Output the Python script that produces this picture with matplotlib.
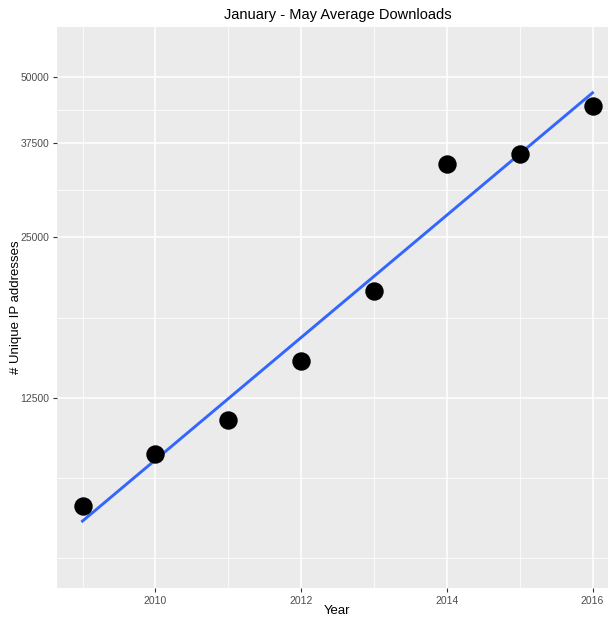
import matplotlib
matplotlib.use('Agg')
import matplotlib.pyplot as plt
from matplotlib.ticker import FixedLocator, NullFormatter
import numpy as np

plt.rcParams['font.family'] = ['Liberation Sans', 'DejaVu Sans']

# data
years = [2009, 2010, 2011, 2012, 2013, 2014, 2015, 2016]
downloads = [7830, 9810, 11360, 14670, 19870, 34300, 35820, 44080]

y_ticks = [12500, 25000, 37500, 50000]
y_minor = [6250, 8839, 17678, 30619, 43301]
x_ticks = [2010, 2012, 2014, 2016]
x_minor = [2009, 2011, 2013, 2015]

fig = plt.figure(figsize=(6.08, 6.19), dpi=100)
ax = fig.add_axes([57 / 608, 31 / 619, 561 / 608, 561 / 619])
ax.set_facecolor('#EBEBEB')

ax.set_yscale('log')
ax.set_xlim(2008.65, 2016.35)
ax.set_ylim(5500, 62000)

ax.xaxis.set_major_locator(FixedLocator(x_ticks))
ax.xaxis.set_minor_locator(FixedLocator(x_minor))
ax.yaxis.set_major_locator(FixedLocator(y_ticks))
ax.yaxis.set_minor_locator(FixedLocator(y_minor))
ax.set_yticklabels([str(v) for v in y_ticks])
ax.yaxis.set_minor_formatter(NullFormatter())

ax.grid(which='major', color='white', linewidth=1.1)
ax.grid(which='minor', color='white', linewidth=0.55)
ax.set_axisbelow(True)
for s in ax.spines.values():
    s.set_visible(False)
ax.tick_params(which='major', length=3, width=0.8, color='#333333',
               labelsize=7.5, labelcolor='#4D4D4D', pad=2.5)
ax.tick_params(which='minor', length=0)

# linear fit in log space, like geom_smooth(method='lm') on a log scale
coef = np.polyfit(years, np.log(downloads), 1)
xs = np.array([years[0], years[-1]])
ax.plot(xs, np.exp(np.polyval(coef, xs)), color='#3366FF', linewidth=2.1, zorder=2)

ax.scatter(years, downloads, s=150, color='black', zorder=3)

fig.text(337 / 608, 1 - 611 / 619, 'Year', ha='center', va='center', fontsize=9.5)
fig.text(16 / 608, 1 - 307 / 619, '# Unique IP addresses', ha='center', va='center',
         rotation=90, fontsize=9.5)
fig.text(338 / 608, 1 - 15 / 619, 'January - May Average Downloads',
         ha='center', va='center', fontsize=10.5)

fig.savefig('out.png', dpi=100)
